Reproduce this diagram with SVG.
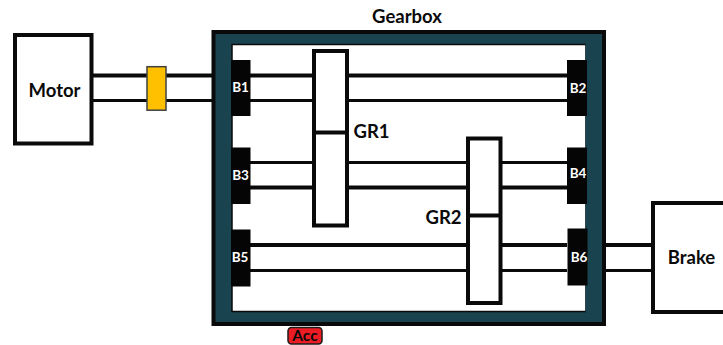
<svg xmlns="http://www.w3.org/2000/svg" width="723" height="345" viewBox="0 0 723 345">
<style>
text{font-family:"Lato","Open Sans",sans-serif;font-weight:700;fill:#0a0a0a;text-anchor:middle}
.box{fill:#fff;stroke:#0a0a0a;stroke-width:4}
.brg{fill:#050505}
.bl{fill:#fff;font-size:13.500px}
.lb{font-size:18.500px}
.s{stroke:#0a0a0a;fill:none}
</style>
<rect width="723" height="345" fill="#fff"/>
<g id="gearbox">
<rect x="213.500" y="32" width="390.500" height="292" fill="#1a4350" stroke="#0a0a0a" stroke-width="4"/>
<rect x="232" y="44.500" width="354" height="267" fill="#fff" stroke="#0a0a0a" stroke-width="1.500"/>
<path d="M586.300 44V312.300" stroke="#1a4350" stroke-width="1.600" fill="none"/>
<text class="lb" x="407" y="22.500">Gearbox</text>
</g>
<g id="connectors">
<path class="s" stroke-width="4" d="M93 75.500H213M232 75.500H567M232 187.500H567M232 245H567M606 245H652"/>
<path class="s" stroke-width="3" d="M93 100.500H213M232 100.500H567M232 162.500H567M232 270.500H567M606 270.500H652"/>
</g>
<g id="motor">
<rect class="box" x="15" y="35" width="76.500" height="108.500"/>
<text class="lb" x="54.500" y="96.500">Motor</text>
</g>
<g id="coupling"><rect x="147" y="66.700" width="19" height="43.500" fill="#ffc000" stroke="#404040" stroke-width="1.500"/></g>
<g id="b1"><rect class="brg" x="231" y="60" width="19.500" height="56"/><text class="bl" x="240.500" y="92">B1</text></g>
<g id="b3"><rect class="brg" x="231" y="147.500" width="19.500" height="56.500"/><text class="bl" x="240.500" y="180">B3</text></g>
<g id="b5"><rect class="brg" x="231" y="229.500" width="19.500" height="57"/><text class="bl" x="240" y="262">B5</text></g>
<g id="b2"><rect class="brg" x="567" y="60" width="20" height="56"/><text class="bl" x="578" y="92.500">B2</text></g>
<g id="b4"><rect class="brg" x="567" y="147.500" width="20" height="56.500"/><text class="bl" x="578" y="178">B4</text></g>
<g id="b6"><rect class="brg" x="567.500" y="228.500" width="20" height="57"/><text class="bl" x="579" y="262">B6</text></g>
<g id="gr1">
<rect class="box" x="314" y="51" width="33" height="174.500"/>
<path class="s" stroke-width="4" d="M314 132.500H347"/>
<text class="lb" x="371.500" y="138">GR1</text>
</g>
<g id="gr2">
<rect class="box" x="468" y="138.500" width="32.500" height="164.500"/>
<path class="s" stroke-width="4" d="M468 215.500H500.500"/>
<text class="lb" x="443.500" y="224">GR2</text>
</g>
<g id="brake">
<rect class="box" x="653" y="203" width="75" height="109"/>
<text class="lb" x="691.500" y="263.500">Brake</text>
</g>
<g id="acc">
<rect x="288" y="327.500" width="34" height="16.500" rx="3.500" fill="#ed1c24" stroke="#1a1a1a" stroke-width="1.500"/>
<text x="305" y="341" font-size="15.500">Acc</text>
</g>
</svg>
